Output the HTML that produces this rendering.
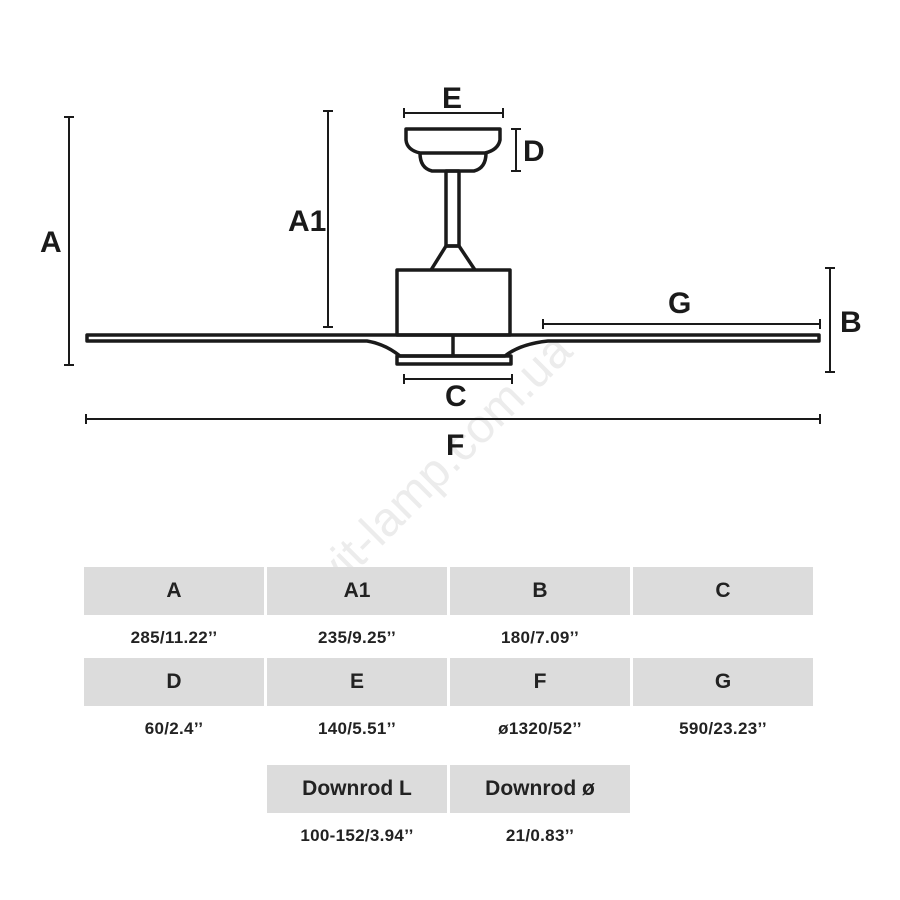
<!DOCTYPE html>
<html><head><style>
body{margin:0;width:900px;height:900px;background:#fff;overflow:hidden;font-family:"Liberation Sans",sans-serif}
.c{position:absolute;background:#dcdcdc;height:48px;width:180px;display:flex;align-items:center;justify-content:center;font-weight:bold;font-size:21px;color:#222}
.v{position:absolute;width:180px;text-align:center;font-size:17px;color:#222;font-weight:bold;letter-spacing:0.3px}
</style></head><body>
<svg width="900" height="900" style="position:absolute;left:0;top:0" fill="none" stroke="#1a1a1a">
<text x="0" y="0" transform="translate(318,610) rotate(-45)" font-family="Liberation Sans,sans-serif" font-size="48" fill="#ececec" stroke="none">svit-lamp.com.ua</text>
<g stroke-width="2">
<line x1="69" y1="117" x2="69" y2="365"/><line x1="64" y1="117" x2="74" y2="117"/><line x1="64" y1="365" x2="74" y2="365"/>
<line x1="328" y1="111" x2="328" y2="327"/><line x1="323" y1="111" x2="333" y2="111"/><line x1="323" y1="327" x2="333" y2="327"/>
<line x1="404" y1="113" x2="503" y2="113"/><line x1="404" y1="108" x2="404" y2="118"/><line x1="503" y1="108" x2="503" y2="118"/>
<line x1="516" y1="129" x2="516" y2="171"/><line x1="511" y1="129" x2="521" y2="129"/><line x1="511" y1="171" x2="521" y2="171"/>
<line x1="830" y1="268" x2="830" y2="372"/><line x1="825" y1="268" x2="835" y2="268"/><line x1="825" y1="372" x2="835" y2="372"/>
<line x1="543" y1="324" x2="820" y2="324"/><line x1="543" y1="319" x2="543" y2="329"/><line x1="820" y1="319" x2="820" y2="329"/>
<line x1="404" y1="379" x2="512" y2="379"/><line x1="404" y1="374" x2="404" y2="384"/><line x1="512" y1="374" x2="512" y2="384"/>
<line x1="86" y1="419" x2="820" y2="419"/><line x1="86" y1="414" x2="86" y2="424"/><line x1="820" y1="414" x2="820" y2="424"/>
</g>
<g stroke-width="3.5" stroke-linejoin="round">
<path d="M406 129 H500 V140 Q498 150 485 153 H420 Q407 150 406 140 Z"/>
<path d="M420 153 Q420 168 432 171 H474 Q486 168 486 153"/>
<rect x="446" y="171" width="13" height="75"/>
<path d="M446 246 L431 270 M459 246 L475 270 M446 246 H459"/>
<rect x="397" y="270" width="113" height="65"/>
<path d="M87 335 H819 V341 H548 Q520 344 505 356 H400 Q385 344 367 341 H87 Z"/>
<rect x="397" y="356" width="114" height="8"/>
<line x1="453" y1="335" x2="453" y2="356"/>
</g>
<g fill="#1a1a1a" stroke="none" font-family="Liberation Sans,sans-serif" font-weight="bold" font-size="30">
<text x="40" y="252">A</text><text x="288" y="231">A1</text><text x="442" y="108">E</text><text x="523" y="161">D</text>
<text x="840" y="332">B</text><text x="668" y="313">G</text><text x="445" y="406">C</text><text x="446" y="455">F</text>
</g>
</svg>
<div class="c" style="left:84px;top:567px">A</div><div class="c" style="left:267px;top:567px">A1</div><div class="c" style="left:450px;top:567px">B</div><div class="c" style="left:633px;top:567px">C</div>
<div class="v" style="left:84px;top:628px">285/11.22’’</div><div class="v" style="left:267px;top:628px">235/9.25’’</div><div class="v" style="left:450px;top:628px">180/7.09’’</div>
<div class="c" style="left:84px;top:658px">D</div><div class="c" style="left:267px;top:658px">E</div><div class="c" style="left:450px;top:658px">F</div><div class="c" style="left:633px;top:658px">G</div>
<div class="v" style="left:84px;top:719px">60/2.4’’</div><div class="v" style="left:267px;top:719px">140/5.51’’</div><div class="v" style="left:450px;top:719px">ø1320/52’’</div><div class="v" style="left:633px;top:719px">590/23.23’’</div>
<div class="c" style="left:267px;top:765px">Downrod L</div><div class="c" style="left:450px;top:765px">Downrod ø</div>
<div class="v" style="left:267px;top:826px">100-152/3.94’’</div><div class="v" style="left:450px;top:826px">21/0.83’’</div>
</body></html>
